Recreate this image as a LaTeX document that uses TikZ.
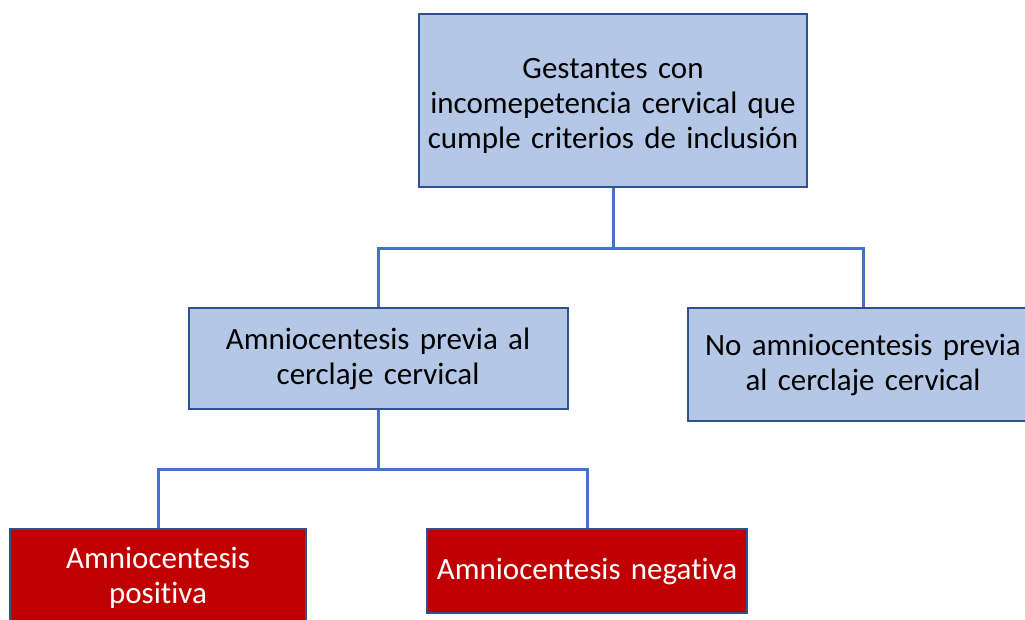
\documentclass[tikz,border=0pt]{standalone}
\usepackage{fontspec}
\setmainfont{Carlito}[Ligatures={NoCommon}]
\definecolor{boxblue}{HTML}{B4C7E7}
\definecolor{boxred}{HTML}{C00000}
\definecolor{edgedark}{HTML}{2F528F}
\definecolor{linkblue}{HTML}{4472C4}
\tikzset{
  basebox/.style={draw=edgedark, line width=2pt, align=center, inner sep=2pt,
    font=\fontsize{31}{35}\selectfont},
  bluebox/.style={basebox, fill=boxblue, text=black},
  redbox/.style={basebox, fill=boxred, text=white},
  link/.style={draw=linkblue, line width=3pt}
}
\begin{document}
\begin{tikzpicture}[x=1pt,y=-1pt]
\useasboundingbox (0,0) rectangle (1025,619);
\clip (0,0) rectangle (1025,619);
\fill[white] (0,0) rectangle (1025,619);
\node[bluebox, minimum width=386pt, minimum height=173pt, text width=384pt] (top) at (613,100.5)
  {\rule{0pt}{31pt}Gestantes con\\incomepetencia cervical que\\cumple criterios de inclusión};
\node[bluebox, minimum width=379pt, minimum height=101pt, text width=375pt] (ml) at (378,358.5)
  {Amniocentesis previa al\\cerclaje cervical};
\node[bluebox, minimum width=350pt, minimum height=113pt, text width=346pt] (mr) at (863,364.5)
  {No amniocentesis previa\\al cerclaje cervical};
\node[redbox, minimum width=296pt, minimum height=98pt, text width=292pt] (bl) at (158,578)
  {Amniocentesis\\positiva};
\node[redbox, minimum width=320pt, minimum height=84pt, text width=316pt] (br) at (587,571)
  {Amniocentesis negativa};
\coordinate (j1) at (613,248);
\coordinate (j2) at (378,469);
\draw[link] (top.south) -- (j1);
\draw[link] (j1) -| (ml.north);
\draw[link] (j1) -| (mr.north);
\draw[link] (ml.south) -- (j2);
\draw[link] (j2) -| (bl.north);
\draw[link] (j2) -| (br.north);
\end{tikzpicture}
\end{document}
